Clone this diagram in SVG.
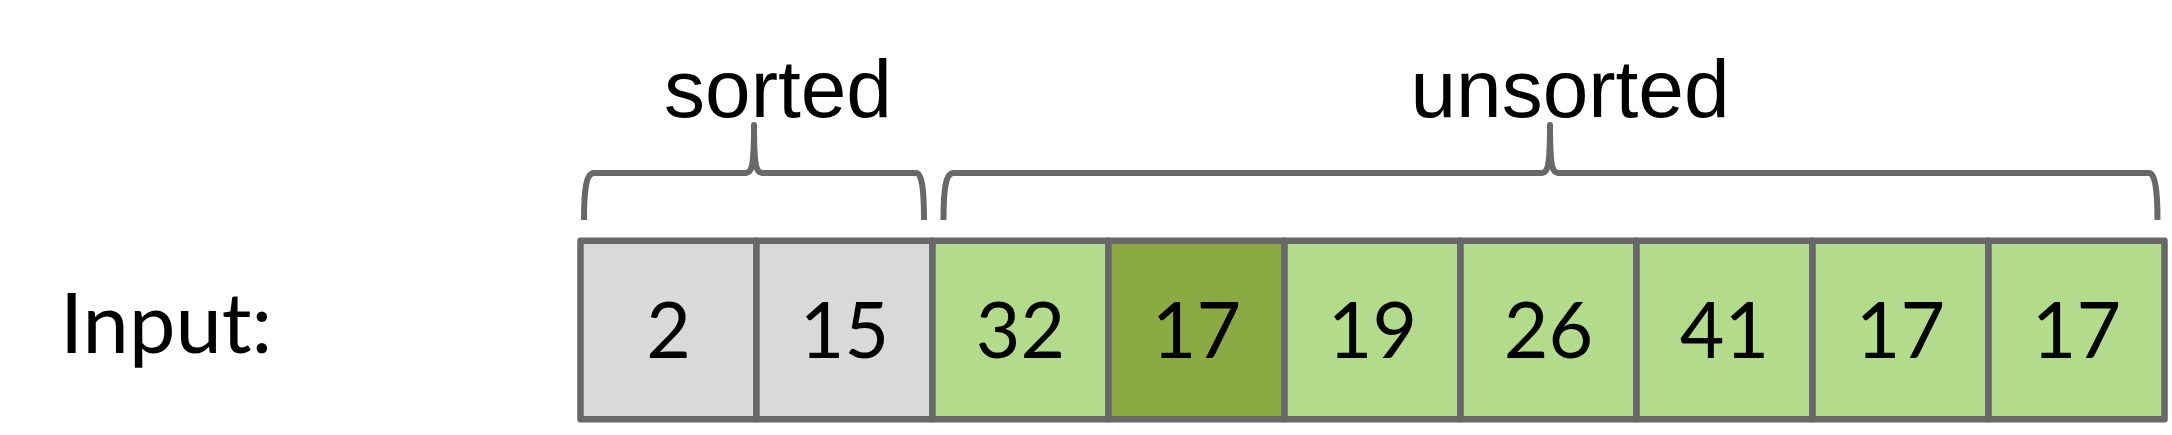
<svg xmlns="http://www.w3.org/2000/svg" width="2172" height="435" viewBox="0 0 2172 435">
<style>
.cell{stroke:#686868;stroke-width:6.5;stroke-linejoin:round}
.sorted{fill:#d9d9d9}
.unsorted{fill:#b2dc8b}
.key{fill:#8caa43}
.num{font-family:Lato,"Open Sans",sans-serif;font-size:77px;fill:#000;text-anchor:middle}
.lbl{font-family:"Liberation Sans",Arial,sans-serif;font-size:82px;fill:#000;text-anchor:middle}
.brace{fill:none;stroke:#686868;stroke-width:6;stroke-linejoin:round;stroke-linecap:butt}
</style>
<rect width="2172" height="435" fill="#ffffff"/>
<g id="input-label"><text x="60" y="353" style="font-family:Lato,'Open Sans',sans-serif;font-size:83px;fill:#000">Input:</text></g>
<g id="label-sorted"><text class="lbl" x="778" y="117">sorted</text></g>
<g id="label-unsorted"><text class="lbl" x="1570" y="117">unsorted</text></g>
<g id="connectors">
<path id="brace-sorted" class="brace" d="M584 220 C584 190 586 173 594 173 L746 173 C752 173 754 165 754 125 C754 165 756 173 762 173 L916 173 C922 173 924 190 924 220"/>
<path id="brace-unsorted" class="brace" d="M943.5 220 C943.5 190 945.5 173 953.5 173 L1542 173 C1548 173 1550 165 1550 125 C1550 165 1552 173 1558 173 L2149 173 C2155 173 2157.5 190 2157.5 220"/>
</g>
<g id="cell-0"><rect class="cell sorted" x="580.5" y="240.7" width="176" height="178.6"/><text class="num" x="668.5" y="358">2</text></g>
<g id="cell-1"><rect class="cell sorted" x="756.5" y="240.7" width="176" height="178.6"/><text class="num" x="844.5" y="358">15</text></g>
<g id="cell-2"><rect class="cell unsorted" x="932.5" y="240.7" width="176" height="178.6"/><text class="num" x="1020.5" y="358">32</text></g>
<g id="cell-3"><rect class="cell key" x="1108.5" y="240.7" width="176" height="178.6"/><text class="num" x="1196.5" y="358">17</text></g>
<g id="cell-4"><rect class="cell unsorted" x="1284.5" y="240.7" width="176" height="178.6"/><text class="num" x="1372.5" y="358">19</text></g>
<g id="cell-5"><rect class="cell unsorted" x="1460.5" y="240.7" width="176" height="178.6"/><text class="num" x="1548.5" y="358">26</text></g>
<g id="cell-6"><rect class="cell unsorted" x="1636.5" y="240.7" width="176" height="178.6"/><text class="num" x="1724.5" y="358">41</text></g>
<g id="cell-7"><rect class="cell unsorted" x="1812.5" y="240.7" width="176" height="178.6"/><text class="num" x="1900.5" y="358">17</text></g>
<g id="cell-8"><rect class="cell unsorted" x="1988.5" y="240.7" width="176" height="178.6"/><text class="num" x="2076.5" y="358">17</text></g>
</svg>
